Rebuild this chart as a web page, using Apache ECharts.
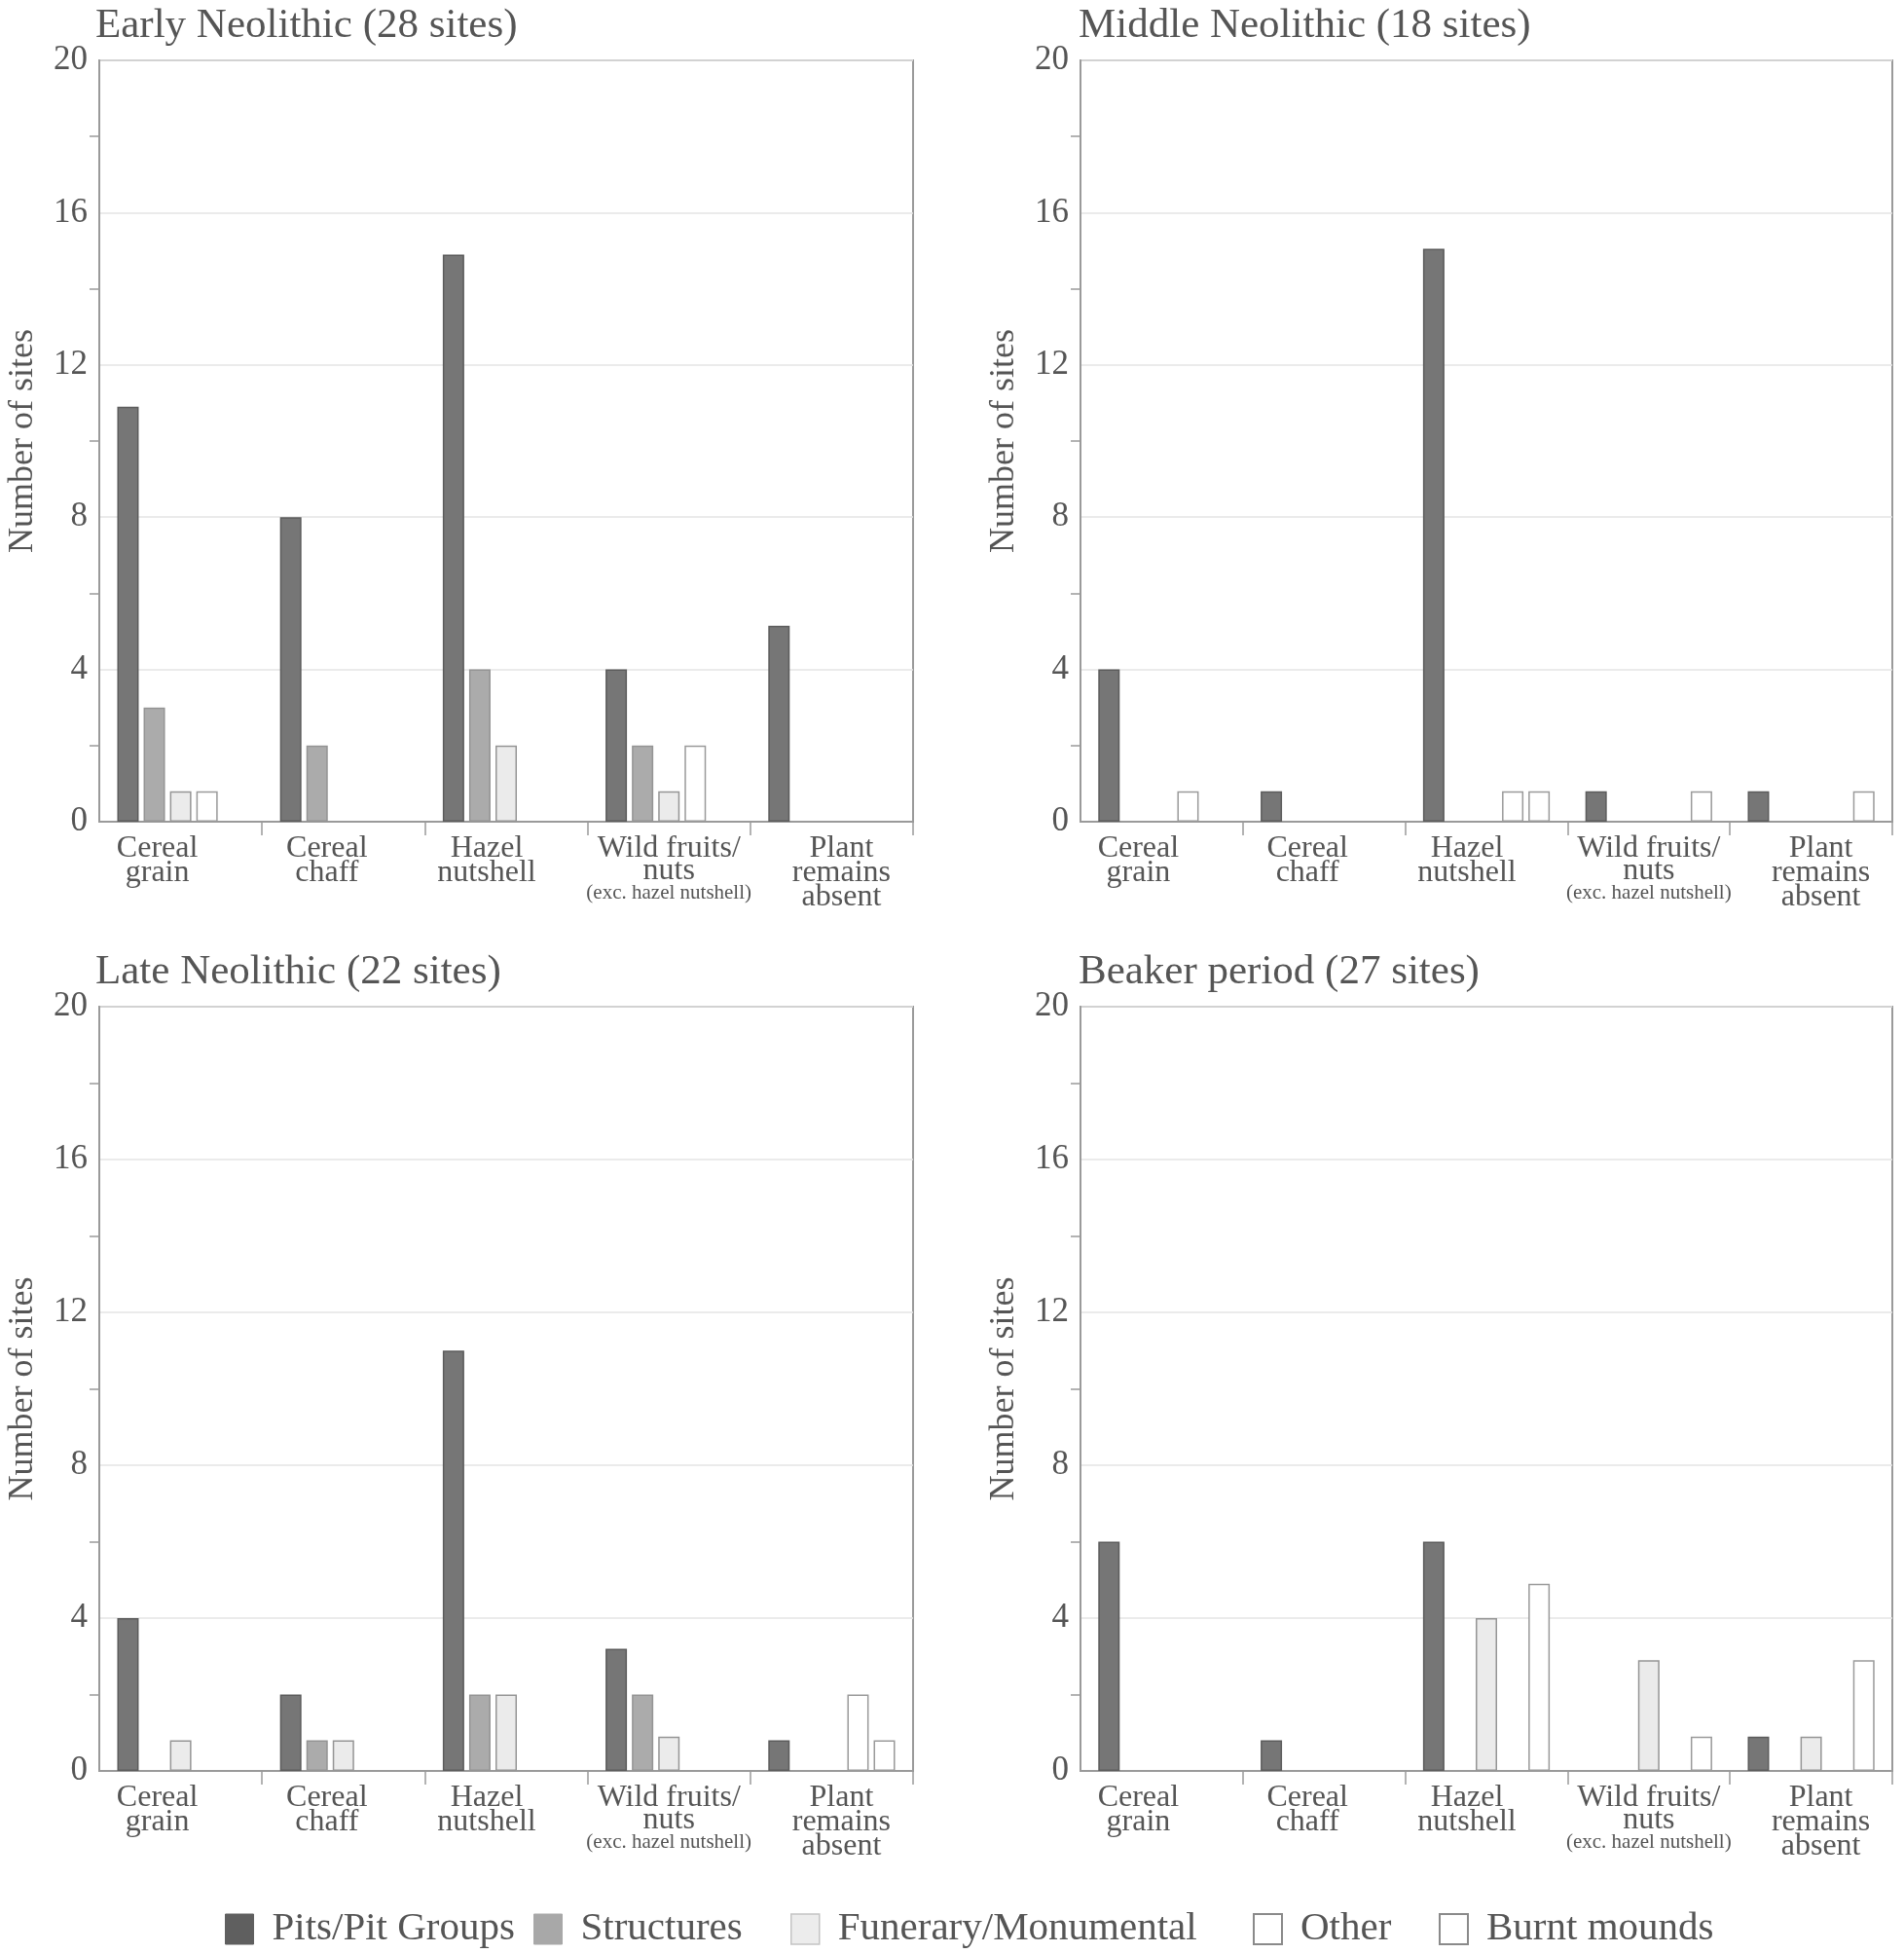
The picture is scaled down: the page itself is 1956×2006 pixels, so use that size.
<!DOCTYPE html>
<html>
<head>
<meta charset="utf-8">
<script src="https://cdn.jsdelivr.net/npm/echarts@6/dist/echarts.min.js"></script>
<style>
html,body{margin:0;padding:0;background:#fff;}
#chart{width:1956px;height:2006px;}
</style>
</head>
<body>
<div id="chart"></div>
<script>
// ---- Data ----
var categories = ['Cereal grain', 'Cereal chaff', 'Hazel nutshell', 'Wild fruits/nuts (exc. hazel nutshell)', 'Plant remains absent'];
var seriesNames = ['Pits/Pit Groups', 'Structures', 'Funerary/Monumental', 'Other', 'Burnt mounds'];
var panelTitles = ['Early Neolithic (28 sites)', 'Middle Neolithic (18 sites)', 'Late Neolithic (22 sites)', 'Beaker period (27 sites)'];
var yTicks = [0, 4, 8, 12, 16, 20];

// Early Neolithic
var earlyPits       = [10.9, 8, 14.9, 4, 5.15];
var earlyStructures = [3, 2, 4, 2, 0];
var earlyFunerary   = [0.8, 0, 2, 0.8, 0];
var earlyOther      = [0.8, 0, 0, 2, 0];
var earlyBurnt      = [0, 0, 0, 0, 0];
// Middle Neolithic
var middlePits       = [4, 0.8, 15.05, 0.8, 0.8];
var middleStructures = [0, 0, 0, 0, 0];
var middleFunerary   = [0, 0, 0, 0, 0];
var middleOther      = [0.8, 0, 0.8, 0, 0];
var middleBurnt      = [0, 0, 0.8, 0.8, 0.8];
// Late Neolithic
var latePits       = [4, 2, 11, 3.2, 0.8];
var lateStructures = [0, 0.8, 2, 2, 0];
var lateFunerary   = [0.8, 0.8, 2, 0.9, 0];
var lateOther      = [0, 0, 0, 0, 2];
var lateBurnt      = [0, 0, 0, 0, 0.8];
// Beaker period
var beakerPits       = [6, 0.8, 6, 0, 0.9];
var beakerStructures = [0, 0, 0, 0, 0];
var beakerFunerary   = [0, 0, 4, 2.9, 0.9];
var beakerOther      = [0, 0, 0, 0, 0];
var beakerBurnt      = [0, 0, 4.9, 0.9, 2.9];

var panels = [
  [earlyPits, earlyStructures, earlyFunerary, earlyOther, earlyBurnt],
  [middlePits, middleStructures, middleFunerary, middleOther, middleBurnt],
  [latePits, lateStructures, lateFunerary, lateOther, lateBurnt],
  [beakerPits, beakerStructures, beakerFunerary, beakerOther, beakerBurnt]
];

// ---- Styles ----
var FONT = "'Liberation Serif', serif";
var TXT = '#555';
var barStyles = [
  {color: '#767676', borderColor: '#5c5c5c', borderWidth: 1.5},
  {color: '#ababab', borderColor: '#949494', borderWidth: 1.5},
  {color: '#ebebeb', borderColor: '#959595', borderWidth: 1.5},
  {color: '#ffffff', borderColor: '#9a9a9a', borderWidth: 1.5},
  {color: '#ffffff', borderColor: '#9a9a9a', borderWidth: 1.5}
];
var legendStyles = [
  {color: '#5f5f5f', borderColor: '#5f5f5f', borderWidth: 1},
  {color: '#a8a8a8', borderColor: '#a8a8a8', borderWidth: 1},
  {color: '#ececec', borderColor: '#c4c4c4', borderWidth: 1.5},
  {color: '#ffffff', borderColor: '#8a8a8a', borderWidth: 2},
  {color: '#ffffff', borderColor: '#8a8a8a', borderWidth: 2}
];
var gridBoxes = [
  {left: 102, top: 62, width: 836, height: 782},
  {left: 1110, top: 62, width: 834, height: 782},
  {left: 102, top: 1034, width: 836, height: 785},
  {left: 1110, top: 1034, width: 834, height: 785}
];
var titleBoxes = [
  {left: 98, top: 5}, {left: 1108, top: 5}, {left: 98, top: 977}, {left: 1108, top: 977}
];
var legendLefts = [231, 548, 812, 1287, 1478];
// horizontal nudge of each category label (px, negative = left), as in the original layout
var labelNudge = [-24, -17, -20, 0, 10];

function labelLines(v) {
  if (v === categories[0]) return [['a', 'Cereal'], ['a', 'grain']];
  if (v === categories[1]) return [['a', 'Cereal'], ['a', 'chaff']];
  if (v === categories[2]) return [['a', 'Hazel'], ['a', 'nutshell']];
  if (v === categories[3]) return [['a', 'Wild fruits/'], ['b', 'nuts'], ['s', '(exc. hazel nutshell)']];
  if (v === categories[4]) return [['a', 'Plant'], ['a', 'remains'], ['a', 'absent']];
  return [['a', v]];
}
function labelFmt(v, idx) {
  var k = categories.indexOf(v);
  var n = k >= 0 ? labelNudge[k] : 0;
  var suffix = n < 0 ? 'L' : (n > 0 ? 'R' : '');
  return labelLines(v).map(function (l) { return '{' + l[0] + suffix + k + '|' + l[1] + '}'; }).join('\n');
}
var baseRich = {
  a: {fontFamily: FONT, fontSize: 32, lineHeight: 25, color: TXT},
  b: {fontFamily: FONT, fontSize: 32, lineHeight: 21, color: TXT},
  s: {fontFamily: FONT, fontSize: 21, lineHeight: 25, color: TXT}
};
var rich = {};
categories.forEach(function (c, k) {
  var n = labelNudge[k];
  var suffix = n < 0 ? 'L' : (n > 0 ? 'R' : '');
  ['a', 'b', 's'].forEach(function (key) {
    var st = Object.assign({}, baseRich[key]);
    if (n < 0) st.padding = [0, -2 * n, 0, 0];
    if (n > 0) st.padding = [0, 0, 0, 2 * n];
    rich[key + suffix + k] = st;
  });
});

var option = {
  backgroundColor: '#fff',
  animation: false,
  title: panelTitles.map(function (t, i) {
    return {text: t, left: titleBoxes[i].left, top: titleBoxes[i].top, padding: 0,
      textStyle: {fontFamily: FONT, fontSize: 43, fontWeight: 'normal', color: TXT}};
  }),
  legend: seriesNames.map(function (n, i) {
    return {
      left: legendLefts[i], top: 1961, orient: 'horizontal', padding: 0,
      itemWidth: 29, itemHeight: 31, icon: 'rect',
      data: [{name: n, itemStyle: legendStyles[i]}],
      textStyle: {fontFamily: FONT, fontSize: 41, color: TXT, padding: [4, 0, 0, 14]}
    };
  }),
  grid: gridBoxes.map(function (g) {
    return {left: g.left, top: g.top, width: g.width, height: g.height,
      show: true, borderColor: '#9a9a9a', borderWidth: 2, backgroundColor: 'transparent', containLabel: false};
  }),
  xAxis: gridBoxes.map(function (g, i) {
    return {
      type: 'category', gridIndex: i, data: categories, boundaryGap: true,
      axisLine: {show: true, lineStyle: {color: '#9a9a9a', width: 2}},
      axisTick: {show: true, length: 14, alignWithLabel: false, lineStyle: {color: '#9a9a9a', width: 1.5},
        interval: function (idx) { return idx !== 0; }},
      axisLabel: {
        interval: 0, margin: 15, formatter: labelFmt, color: TXT, rich: rich
      },
      splitLine: {show: false}
    };
  }),
  yAxis: gridBoxes.map(function (g, i) {
    return {
      type: 'value', gridIndex: i, min: yTicks[0], max: yTicks[yTicks.length - 1], interval: 4,
      name: 'Number of sites', nameLocation: 'middle', nameGap: 60,
      nameTextStyle: {fontFamily: FONT, fontSize: 36, color: TXT},
      axisLine: {show: true, lineStyle: {color: '#9a9a9a', width: 2}},
      axisTick: {show: false},
      minorTick: {show: true, splitNumber: 2, length: 10, lineStyle: {color: '#9a9a9a', width: 1.5}},
      axisLabel: {fontFamily: FONT, fontSize: 35, color: TXT, margin: 12},
      splitLine: {show: true, lineStyle: {color: '#e4e4e4', width: 1.5}},
      minorSplitLine: {show: false}
    };
  }),
  series: []
};

panels.forEach(function (panel, p) {
  panel.forEach(function (vals, s) {
    option.series.push({
      type: 'bar', name: seriesNames[s], xAxisIndex: p, yAxisIndex: p,
      barWidth: 22, barGap: '23%',
      itemStyle: barStyles[s],
      data: vals.map(function (v) { return v === 0 ? '-' : v; })
    });
  });
});

var chart = echarts.init(document.getElementById('chart'), null, {renderer: 'canvas'});
chart.setOption(option);
</script>
</body>
</html>
